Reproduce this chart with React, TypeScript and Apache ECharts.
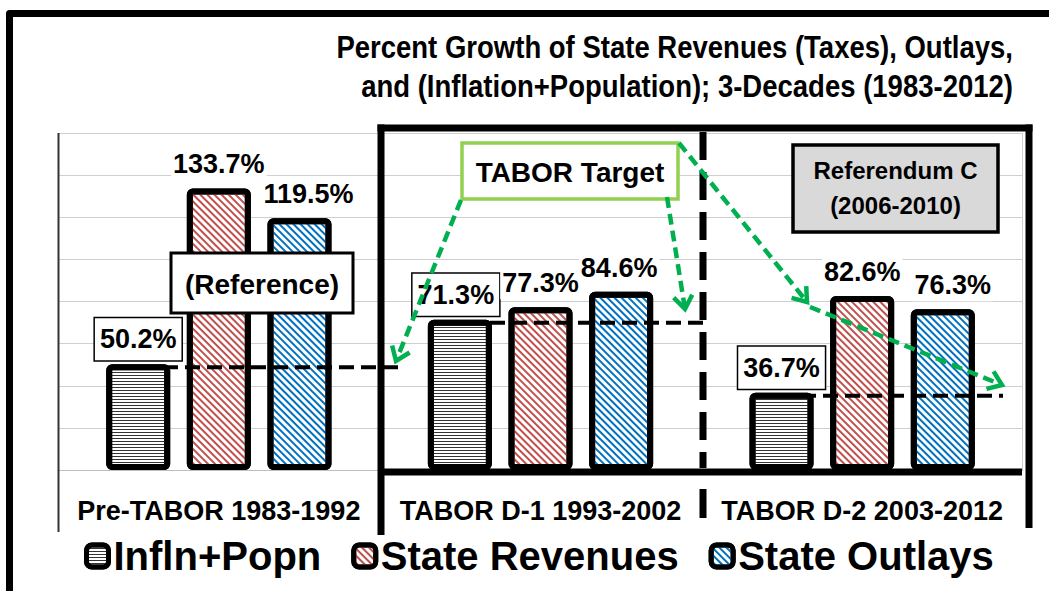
import React, { useEffect, useRef } from 'react';
import * as echarts from 'echarts';

// ---------------- data ----------------
const categories = ['Pre-TABOR 1983-1992', 'TABOR D-1 1993-2002', 'TABOR D-2 2003-2012'];
const seriesNames = ['Infln+Popn', 'State Revenues', 'State Outlays'];
const inflPopn = [50.2, 71.3, 36.7];
const stateRevenues = [133.7, 77.3, 82.6];
const stateOutlays = [119.5, 84.6, 76.3];
const yMin = 0;
const yMax = 160;
const yInterval = 20;
const titleLines = [
  'Percent Growth of State Revenues (Taxes), Outlays,',
  'and (Inflation+Population); 3-Decades (1983-2012)',
];
const noteReference = '(Reference)';
const noteTarget = 'TABOR Target';
const noteReferendum = ['Referendum C', '(2006-2010)'];

// ---------------- styles ----------------
const FONT = '"Liberation Sans", Arial, sans-serif';
const GREEN = '#00B050';

const labelBase = {
  show: true,
  position: 'top',
  distance: 8,
  fontSize: 27,
  fontWeight: 'bold',
  fontFamily: FONT,
  color: '#000',
  backgroundColor: '#fff',
  padding: [1, 2],
  lineHeight: 30,
  formatter: (p: any) => Number(p.value).toFixed(1) + '%',
};

function makeSeries(name: string, values: number[], decal: any, label: any, offsets: number[]) {
  return {
    type: 'bar',
    name,
    barWidth: 64,
    barGap: '26%',
    data: values.map((v, i) => ({ value: v, label: { offset: [offsets[i], 0] } })),
    itemStyle: { color: '#fff', borderColor: '#000', borderWidth: 6, borderRadius: 3, decal },
    label,
  };
}

function arrow(x0: number, y0: number, x1: number, y1: number) {
  const dx = x1 - x0, dy = y1 - y0;
  const len = Math.hypot(dx, dy);
  const bx = -dx / len, by = -dy / len;
  const L = 16, a = Math.PI / 5;
  const arm = (ang: number) => [
    x1 + L * (bx * Math.cos(ang) - by * Math.sin(ang)),
    y1 + L * (bx * Math.sin(ang) + by * Math.cos(ang)),
  ];
  return [
    {
      type: 'line', z: 90,
      shape: { x1: x0, y1: y0, x2: x1 + bx * 2, y2: y1 + by * 2 },
      style: { stroke: GREEN, lineWidth: 4.5, lineDash: [11, 6] },
    },
    {
      type: 'polyline', z: 90,
      shape: { points: [arm(a), [x1, y1], arm(-a)] },
      style: { stroke: GREEN, lineWidth: 4.5, fill: 'none', lineJoin: 'miter' },
    },
  ];
}

function txt(text: string, x: number, y: number, size: number, lh?: number, align = 'center', sx = 1) {
  return {
    type: 'text', z: 71,
    x, y, scaleX: sx,
    style: {
      text, x: 0, y: 0, fill: '#000', fontSize: size, fontWeight: 'bold', fontFamily: FONT,
      align, verticalAlign: 'middle', textAlign: align, textVerticalAlign: 'middle',
      lineHeight: lh,
    },
  };
}

function line(x1: number, y1: number, x2: number, y2: number, w: number, color: string, dash?: number[], z = 50) {
  return {
    type: 'line', z,
    shape: { x1, y1, x2, y2 },
    style: { stroke: color, lineWidth: w, lineDash: dash, lineCap: 'butt' },
  };
}

export default function App() {
  const ref = useRef<HTMLDivElement>(null);
  useEffect(() => {
    if (!ref.current) return;
    const chart = echarts.init(ref.current, undefined, { renderer: 'svg' });
    const option: any = {
      animation: false,
      backgroundColor: '#fff',
      legend: {
        left: 84,
        top: 536,
        padding: 0,
        itemWidth: 22,
        itemHeight: 22,
        itemGap: 30,
        icon: 'roundRect',
        itemStyle: { borderColor: '#000', borderWidth: 5 },
        textStyle: { fontSize: 40, fontWeight: 'bold', fontFamily: FONT, color: '#000' },
        data: seriesNames,
      },
      grid: { left: 58, right: 26, top: 133, bottom: 121, containLabel: false },
      xAxis: {
        type: 'category',
        data: categories,
        axisTick: { show: false },
        axisLine: { lineStyle: { color: '#bfbfbf', width: 1 } },
        axisLabel: { interval: 0, margin: 27, fontSize: 27, fontWeight: 'bold', fontFamily: FONT, color: '#000' },
      },
      yAxis: {
        type: 'value',
        min: yMin,
        max: yMax,
        interval: yInterval,
        axisLabel: { show: false },
        axisLine: { show: false },
        axisTick: { show: false },
        splitLine: { lineStyle: { color: '#cfcfcf', width: 1 } },
      },
      series: [
        makeSeries(seriesNames[0], inflPopn,
          { symbol: 'rect', symbolSize: 1, dashArrayX: [1, 0], dashArrayY: [1, 2], rotation: 0, color: '#333' },
          { ...labelBase, distance: 4, borderColor: '#000', borderWidth: 1.5, padding: [6, 5] },
          [0, -4, 0]),
        makeSeries(seriesNames[1], stateRevenues,
          { symbol: 'rect', symbolSize: 1, dashArrayX: [1, 0], dashArrayY: [1.3, 2.4], rotation: Math.PI / 4, color: '#C0504D' },
          labelBase, [0, 0, 0]),
        makeSeries(seriesNames[2], stateOutlays,
          { symbol: 'rect', symbolSize: 1, dashArrayX: [1, 0], dashArrayY: [1.3, 2.4], rotation: Math.PI / 4, color: '#0070C0' },
          labelBase, [9, -2, 10]),
      ],
    };
    chart.setOption(option);

    const yp = (v: number) => chart.convertToPixel({ yAxisIndex: 0 }, v) as number;
    const refSpans = [
      [163, 400],
      [468, 705],
      [757, 1003],
    ];
    const graphics: any[] = [
      // title
      txt(titleLines[0], 1013, 47, 32, undefined, 'right', 0.86),
      txt(titleLines[1], 1013, 86, 32, undefined, 'right', 0.86),
      // outer frame
      {
        type: 'polyline', z: 100,
        shape: { points: [[9.5, 620], [9.5, 13.5], [1080, 13.5]] },
        style: { stroke: '#000', lineWidth: 7, fill: 'none', lineJoin: 'round' },
      },
      // plot boundaries
      line(58.5, 133, 58.5, 532, 2, '#333', undefined, 40),
      line(1022.5, 133, 1022.5, 470, 1, '#cfcfcf', undefined, 1),
      // TABOR box
      line(377.5, 128, 1032.5, 128, 7, '#000'),
      line(381, 124.5, 381, 535, 7, '#000'),
      line(1029, 124.5, 1029, 528, 7, '#000'),
      line(381, 472, 1022, 472, 7, '#000'),
      line(703, 132, 703, 468, 7, '#000', [28, 12]),
      line(703, 489, 703, 518, 7, '#000'),
      // inflation reference lines
      ...inflPopn.map((v, i) => line(refSpans[i][0], yp(v) + 3, refSpans[i][1], yp(v) + 3, 4, '#000', [15, 7], 60)),
      // (Reference) box
      { type: 'rect', z: 70, shape: { x: 171, y: 253, width: 182, height: 60 }, style: { fill: '#fff', stroke: '#000', lineWidth: 3 } },
      txt(noteReference, 262, 284, 28),
      // TABOR Target box
      { type: 'rect', z: 70, shape: { x: 462, y: 143, width: 216, height: 56 }, style: { fill: '#fff', stroke: '#92D050', lineWidth: 3.5 } },
      txt(noteTarget, 570, 172, 28),
      // Referendum C box
      { type: 'rect', z: 70, shape: { x: 793, y: 145, width: 205, height: 87 }, style: { fill: '#D9D9D9', stroke: '#000', lineWidth: 3.5 } },
      txt(noteReferendum.join('\n'), 895.5, 188, 24, 35),
      // arrows
      ...arrow(461, 200, 396, 361),
      ...arrow(667, 197, 685, 309),
      ...arrow(679, 143, 807, 302),
      ...arrow(810, 307, 1002, 385),
    ];
    chart.setOption({ graphic: graphics });
    return () => chart.dispose();
  }, []);
  return (
    <div
      ref={ref}
      style={{ position: 'absolute', left: 0, top: 0, width: 1049, height: 591, background: '#fff' }}
    />
  );
}
